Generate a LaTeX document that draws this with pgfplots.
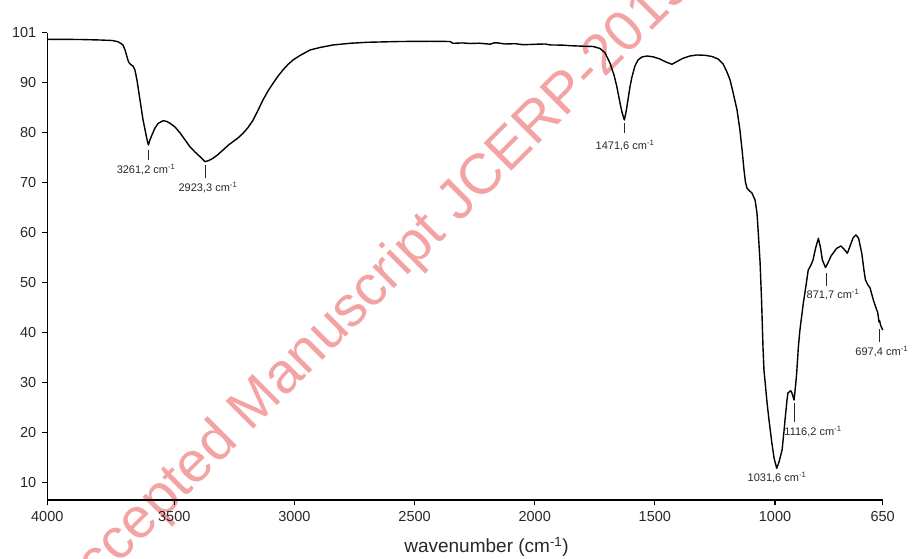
\documentclass[border=0pt]{standalone}
\usepackage{fontspec}
\setmainfont{Liberation Sans}
\usepackage{pgfplots}
\pgfplotsset{compat=1.18}
\definecolor{wmark}{RGB}{243,163,163}
\definecolor{lbl}{RGB}{40,40,40}

\begin{document}
\begin{tikzpicture}
\useasboundingbox (0,0) rectangle (918pt,559pt);
% watermark behind the spectrum
\node[rotate=45, anchor=base west, inner sep=0pt, text=wmark,
      font=\fontsize{57}{59}\selectfont] at (71.4pt,-52.6pt) {Accepted Manuscript JCERP-2019};

\begin{axis}[
  at={(47.3pt,59pt)}, anchor=south west,
  width=835.4pt, height=467.3pt, scale only axis,
  % piecewise scale of the wavenumber axis
  x coord trafo/.code={\pgfmathparse{ifthenelse(#1>=3500, 174.3-0.254*(#1-3500), ifthenelse(#1>=1000, 174.3+0.24028*(3500-#1), 775+0.30771*(1000-#1)))}},
  xmin=4000, xmax=650,
  ymin=6.54, ymax=100,
  axis lines=left,
  axis line style={-, line width=1.3pt},
  tick align=outside,
  major tick length=5.5pt,
  tick style={black, line width=1.1pt},
  xtick={4000,3500,3000,2500,2000,1500,1000,650},
  xticklabels={4000,3500,3000,2500,2000,1500,1000,650},
  ytick={10,20,30,40,50,60,70,80,90,100},
  yticklabels={10,20,30,40,50,60,70,80,90,101},
  /pgf/number format/assume math mode=true,
  tick label style={font=\fontsize{14.5}{16}\selectfont, text=lbl},
  xticklabel style={yshift=-2.5pt},
  yticklabel style={xshift=-2pt},
  clip=false,
]
\addplot[black, line width=1.4pt, line join=round] coordinates {
(4000,98.68) (3871,98.64) (3793,98.54) (3745,98.44) (3722,98.2) (3710,97.84)
(3702,97.54) (3694,96.54) (3686,95.14) (3680,94.14) (3672,93.64) (3663,93.34)
(3655,92.54) (3647,90.54) (3635,86.54) (3623,82.54) (3615,80.54) (3607,78.54)
(3602,77.54) (3596,78.54) (3588,79.54) (3576,80.94) (3564,81.84) (3544,82.4)
(3529,82.24) (3517,81.88) (3497,81.14) (3476,79.94) (3455,78.54) (3435,77.2)
(3414,76.14) (3393,75.2) (3372,74.2) (3356,74.44) (3339,74.88) (3318,75.64)
(3297,76.54) (3277,77.44) (3256,78.2) (3235,78.94) (3214,79.88) (3193,81.04)
(3172,82.54) (3152,84.44) (3131,86.54) (3110,88.34) (3089,89.88) (3068,91.34)
(3048,92.54) (3027,93.64) (3006,94.54) (2977,95.44) (2935,96.54) (2894,97.04)
(2840,97.54) (2769,97.88) (2698,98.08) (2561,98.24) (2436,98.28) (2353,98.24)
(2340,97.88) (2300,97.95) (2269,97.84) (2230,97.9) (2186,97.7) (2170,97.95)
(2157,97.98) (2124,97.74) (2080,97.8) (2050,97.6) (2020,97.64) (1990,97.7)
(1957,97.74) (1935,97.55) (1916,97.54) (1880,97.5) (1853,97.4) (1800,97.3)
(1757,97.24) (1728,96.84) (1707,95.94) (1687,93.94) (1670,91.54) (1658,89.14)
(1645,85.94) (1637,84.14) (1627,82.54) (1620,84.14) (1612,86.54) (1603,89.34)
(1595,91.2) (1583,93.34) (1570,94.54) (1554,95.14) (1533,95.34) (1508,95.18)
(1479,94.74) (1454,94.14) (1429,93.68) (1408,94.24) (1383,94.88) (1354,95.34)
(1325,95.54) (1291,95.48) (1262,95.24) (1237,94.74) (1216,93.74) (1200,92.14)
(1187,90.54) (1175,88.14) (1158,84.54) (1146,80.54) (1137,76.54) (1129,72.54)
(1123,70.14) (1117,68.94) (1108,68.44) (1096,67.94) (1083,66.54) (1075,63.94)
(1069,59.54) (1062,53.94) (1056,46.54) (1050,37.2) (1046,32.54) (1040,29.54)
(1033,25.94) (1025,22.54) (1013,17.94) (1004,14.94) (994.5,12.88) (987,14.14)
(977,16.54) (971,20.14) (967.5,22.54) (961,26.54) (958,27.94) (949,28.4)
(945,27.94) (938,26.54) (933,29.54) (929.5,31.94) (924,37.2) (919,40.54)
(908,45.88) (899,49.54) (892,52.54) (883,53.54) (876.5,54.54) (868,56.94)
(859,58.88) (852,56.94) (846,54.54) (836,53.04) (828,53.94) (818,55.34)
(799.5,56.88) (785.5,57.34) (776,56.74) (765,55.88) (756,57.34) (746.5,58.94)
(737,59.54) (728.6,58.94) (718,55.88) (711,52.54) (706,50.54) (698,49.54)
(691,48.94) (680.5,46.54) (675,45.54) (672,45.0) (669.5,44.54) (667,44.2)
(665,43.54) (663,42.6) (662,42.14) (660,42.4) (657,41.54) (654,41.1) (650,40.54)
};

% band markers
\draw[lbl, line width=0.8pt] (axis cs:3603,76.54) -- (axis cs:3603,74.54);
\draw[lbl, line width=0.8pt] (axis cs:3372,73.54) -- (axis cs:3372,70.94);
\draw[lbl, line width=0.8pt] (axis cs:1628,81.94) -- (axis cs:1628,79.94);
\draw[lbl, line width=0.8pt] (axis cs:834,52.0) -- (axis cs:834,49.34);
\draw[lbl, line width=0.8pt] (axis cs:661,40.74) -- (axis cs:661,38.14);
\draw[lbl, line width=0.8pt] (axis cs:938,25.94) -- (axis cs:938,22.14);

\begin{scope}[every node/.style={font=\fontsize{11}{12}\selectfont, text=lbl, inner sep=0pt}]
\node at (axis cs:3611,72.54) {3261,2 cm\textsuperscript{-1}};
\node at (axis cs:3360,68.94) {2923,3 cm\textsuperscript{-1}};
\node at (axis cs:1624,77.34) {1471,6 cm\textsuperscript{-1}};
\node at (axis cs:811.5,47.54) {871,7 cm\textsuperscript{-1}};
\node at (axis cs:653,36.2) {697,4 cm\textsuperscript{-1}};
\node at (axis cs:876.5,20.2) {1116,2 cm\textsuperscript{-1}};
\node at (axis cs:993.5,11.08) {1031,6 cm\textsuperscript{-1}};
\end{scope}
\end{axis}

\node[anchor=base, inner sep=0pt, text=lbl, font=\fontsize{19}{21}\selectfont]
  at (486.5pt,6pt) {wavenumber (cm\textsuperscript{-1})};
\end{tikzpicture}
\end{document}
